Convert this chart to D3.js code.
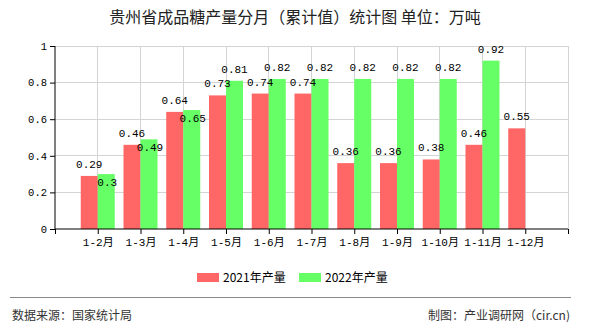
<!DOCTYPE html>
<html><head><meta charset="utf-8">
<script src="https://cdn.jsdelivr.net/npm/d3@7"></script>
<style>
body{margin:0;background:#fff;}
svg{display:block;}
</style></head>
<body>
<svg id="c" width="590" height="330"></svg>
<script>
const categories = ["1-2月","1-3月","1-4月","1-5月","1-6月","1-7月","1-8月","1-9月","1-10月","1-11月","1-12月"];
const series2021 = [0.29,0.46,0.64,0.73,0.74,0.74,0.36,0.36,0.38,0.46,0.55];
const series2022 = [0.3,0.49,0.65,0.81,0.82,0.82,0.82,0.82,0.82,0.92,null];
const yTicks = [0,0.2,0.4,0.6,0.8,1];
const seriesNames = ["2021年产量","2022年产量"];
const colors = ["#ff6666","#66ff66"];

const svg = d3.select("#c");
const x = d3.scaleLinear().domain([0, categories.length + 1]).range([55, 568]);
const y = d3.scaleLinear().domain([0, 1]).range([229, 46]);
const bw = 17;
const numFont = "'Liberation Mono','DejaVu Sans Mono','Noto Sans CJK SC',monospace";
const cjk = "'Noto Sans CJK SC','Noto Sans',sans-serif";

// title
svg.append("text").attr("x", 295).attr("y", 23).attr("text-anchor","middle")
  .attr("font-family", cjk).attr("font-size", 16).attr("fill","#222")
  .text("贵州省成品糖产量分月（累计值）统计图 单位：万吨");

// grid
const xt = d3.range(0, categories.length + 2);
svg.append("g").selectAll("line").data(xt.slice(1)).join("line")
  .attr("x1", d=>x(d)).attr("x2", d=>x(d)).attr("y1", y(0)).attr("y2", y(1))
  .attr("stroke","#d4d4d4").attr("stroke-width",1).attr("shape-rendering","crispEdges");
svg.append("g").selectAll("line").data(yTicks.slice(1)).join("line")
  .attr("x1", x(0)).attr("x2", x(categories.length+1)).attr("y1", d=>y(d)).attr("y2", d=>y(d))
  .attr("stroke","#d4d4d4").attr("stroke-width",1).attr("shape-rendering","crispEdges");

// bars
const data = categories.map((c,i)=>({c, i:i+1, a:series2021[i], b:series2022[i]}));
svg.append("g").selectAll("rect").data(data.filter(d=>d.a!=null)).join("rect")
  .attr("x", d=>x(d.i)-bw).attr("width", bw).attr("y", d=>y(d.a)).attr("height", d=>y(0)-y(d.a))
  .attr("fill", colors[0]);
svg.append("g").selectAll("rect").data(data.filter(d=>d.b!=null)).join("rect")
  .attr("x", d=>x(d.i)).attr("width", bw).attr("y", d=>y(d.b)).attr("height", d=>y(0)-y(d.b))
  .attr("fill", colors[1]);

// axes
const yAxis = d3.axisLeft(y).tickValues(yTicks).tickFormat(d=>String(d)).tickSize(5).tickPadding(3);
const gy = svg.append("g").attr("transform",`translate(${x(0)},0)`).call(yAxis);
gy.selectAll("text").attr("font-family", numFont).attr("font-size", 10.5).attr("fill","#000");
gy.selectAll("path,line").attr("stroke","#000");
gy.select(".domain").attr("d", `M0,${y(0)}V${y(1)}`);

const xAxis = d3.axisBottom(x).tickValues(xt).tickFormat(d=> (d>=1 && d<=categories.length) ? categories[d-1] : "").tickSize(5).tickPadding(4);
const gx = svg.append("g").attr("transform",`translate(0,${y(0)})`).call(xAxis);
gx.selectAll("text").attr("font-family", numFont).attr("font-size", 11).attr("fill","#000");
gx.selectAll("path,line").attr("stroke","#000");
gx.select(".domain").attr("d", `M${x(0)},0H${x(categories.length+1)}`);

// value labels
const lbl = svg.append("g").attr("font-family", numFont).attr("font-size", 11).attr("fill","#000").attr("text-anchor","middle");
data.filter(d=>d.a!=null).forEach(d=>{
  lbl.append("text").attr("x", x(d.i)-bw/2).attr("y", y(d.a)-8).text(String(d.a));
});
data.filter(d=>d.b!=null).forEach(d=>{
  const inside = d.a!=null && Math.abs(d.b-d.a) < 0.05;
  lbl.append("text").attr("x", x(d.i)+bw/2+ (inside?1:0)).attr("y", inside ? y(d.b)+12 : y(d.b)-8).text(String(d.b));
});

// legend
const lg = svg.append("g");
const lx = [197, 299];
seriesNames.forEach((n,i)=>{
  lg.append("rect").attr("x", lx[i]).attr("y", 273).attr("width", 22).attr("height", 9).attr("fill", colors[i]);
  lg.append("text").attr("x", lx[i]+26).attr("y", 281.5).attr("font-family", cjk).attr("font-size", 12).attr("fill","#000").text(n);
});

// footer
svg.append("line").attr("x1",10).attr("x2",571).attr("y1",297.5).attr("y2",297.5).attr("stroke","#888").attr("stroke-width",1);
svg.append("text").attr("x",12).attr("y",320).attr("font-family",cjk).attr("font-size",12).attr("fill","#333").text("数据来源：国家统计局");
svg.append("text").attr("x",570).attr("y",320).attr("text-anchor","end").attr("font-family",cjk).attr("font-size",12).attr("fill","#333").text("制图：产业调研网（cir.cn)");
</script>
</body></html>
